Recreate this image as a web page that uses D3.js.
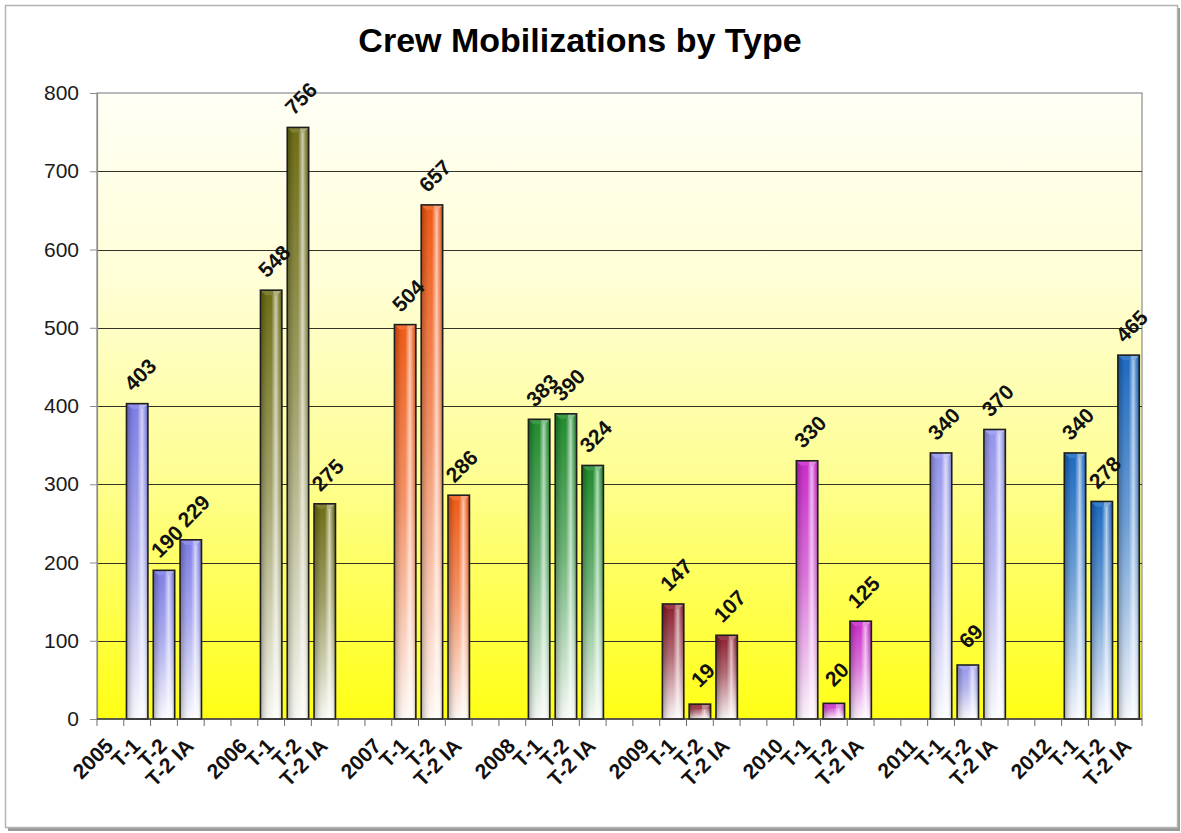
<!DOCTYPE html>
<html>
<head>
<meta charset="utf-8">
<script src="https://cdn.jsdelivr.net/npm/d3@7"></script>
<style>
  html, body { margin: 0; padding: 0; background: #ffffff; }
  svg { display: block; font-family: "Liberation Sans", Arial, sans-serif; }
</style>
</head>
<body>
<svg id="chart" width="1181" height="833"></svg>
<script>
// Crew mobilizations per year, split by crew type
const years = ["2005", "2006", "2007", "2008", "2009", "2010", "2011", "2012"];
const crewTypes = ["T-1", "T-2", "T-2 IA"];
const valuesT1   = [403, 548, 504, 383, 147, 330, 340, 340];
const valuesT2   = [190, 756, 657, 390, 19, 20, 69, 278];
const valuesT2IA = [229, 275, 286, 324, 107, 125, 370, 465];
const yearColors = ["#7c7ce6", "#6c6c12", "#f05812", "#1c8a2a", "#8a1a2a", "#c828c8", "#9494ec", "#1a68c0"];
const yTickValues = [0, 100, 200, 300, 400, 500, 600, 700, 800];

const svg = d3.select("#chart");
const plot = { left: 97, right: 1142, top: 93, bottom: 719 };

// One slot per axis label: year, its three crew types, then a spacer
const typeValues = [valuesT1, valuesT2, valuesT2IA];
const slots = [];
years.forEach((yr, i) => {
  slots.push({ label: yr, value: null, year: i });
  crewTypes.forEach((t, k) => slots.push({ label: t, value: typeValues[k][i], year: i }));
  if (i < years.length - 1) slots.push({ label: "", value: null, year: i });
});
slots.forEach((s, i) => s.key = i);

const x = d3.scaleBand()
  .domain(slots.map(s => s.key))
  .range([plot.left, plot.right])
  .paddingInner(0.2)
  .paddingOuter(0.1);
const y = d3.scaleLinear().domain([0, 800]).range([plot.bottom, plot.top]);

const defs = svg.append("defs");

// Plot background: pale cream at top to bright yellow at the base
const bg = defs.append("linearGradient").attr("id", "plotBg")
  .attr("x1", 0).attr("y1", 0).attr("x2", 0).attr("y2", 1);
[[0, "#fffff6"], [0.3, "#fffed6"], [0.6, "#fefe96"], [0.85, "#ffff44"], [1, "#ffff14"]]
  .forEach(([o, c]) => bg.append("stop").attr("offset", o).attr("stop-color", c));

// Vertical colour fade per year
yearColors.forEach((c, i) => {
  const g = defs.append("linearGradient").attr("id", "fade" + i)
    .attr("x1", 0).attr("y1", 0).attr("x2", 0).attr("y2", 1);
  g.append("stop").attr("offset", 0).attr("stop-color", c);
  g.append("stop").attr("offset", 0.45).attr("stop-color", d3.interpolateRgb(c, "#ffffff")(0.35));
  g.append("stop").attr("offset", 1).attr("stop-color", d3.interpolateRgb(c, "#ffffff")(0.95));
});

// Horizontal cylinder shading overlay
const shade = defs.append("linearGradient").attr("id", "shade")
  .attr("x1", 0).attr("y1", 0).attr("x2", 1).attr("y2", 0);
[[0, "#000000", 0.28], [0.2, "#000000", 0.1], [0.5, "#ffffff", 0.0], [0.72, "#ffffff", 0.65],
 [0.86, "#ffffff", 0.2], [1, "#000000", 0.25]]
  .forEach(([o, c, a]) => shade.append("stop").attr("offset", o).attr("stop-color", c).attr("stop-opacity", a));

// Outer frame with a soft drop edge
svg.append("rect").attr("x", 8).attr("y", 8).attr("width", 1172).attr("height", 823)
  .attr("fill", "#9a9a9a");
svg.append("rect").attr("x", 5.5).attr("y", 5.5).attr("width", 1172).attr("height", 822)
  .attr("fill", "#ffffff").attr("stroke", "#b4b4b4").attr("stroke-width", 1.5);

// Plot area
svg.append("rect")
  .attr("x", plot.left).attr("y", plot.top)
  .attr("width", plot.right - plot.left).attr("height", plot.bottom - plot.top)
  .attr("fill", "url(#plotBg)").attr("stroke", "#8c8c8c").attr("stroke-width", 1.2);

// Horizontal gridlines
svg.append("g").selectAll("line")
  .data(yTickValues.filter(v => v > 0 && v < 800))
  .join("line")
  .attr("x1", plot.left).attr("x2", plot.right)
  .attr("y1", d => Math.round(y(d)) + 0.5).attr("y2", d => Math.round(y(d)) + 0.5)
  .attr("stroke", "#333326").attr("stroke-width", 1.1);

// Y axis
const yAxis = svg.append("g")
  .attr("transform", `translate(${plot.left},0)`)
  .call(d3.axisLeft(y).tickValues(yTickValues).tickSize(7).tickPadding(11));
yAxis.select(".domain").attr("stroke", "#8c8c8c").attr("stroke-width", 1.2);
yAxis.selectAll(".tick line").attr("stroke", "#8c8c8c");
yAxis.selectAll(".tick text")
  .attr("font-size", 21).attr("fill", "#1a1a1a")
  .attr("font-family", "'Liberation Sans', Arial, sans-serif");

// Bars
const barSlots = slots.filter(s => s.value !== null);
const bars = svg.append("g").selectAll("g.bar").data(barSlots).join("g").attr("class", "bar");
bars.append("rect")
  .attr("x", d => x(d.key)).attr("y", d => y(d.value))
  .attr("width", x.bandwidth()).attr("height", d => y(0) - y(d.value))
  .attr("fill", d => `url(#fade${d.year})`);
bars.append("rect")
  .attr("x", d => x(d.key)).attr("y", d => y(d.value))
  .attr("width", x.bandwidth()).attr("height", d => y(0) - y(d.value))
  .attr("fill", "url(#shade)");
// bevelled top cap
bars.append("path")
  .attr("d", d => {
    const x0 = x(d.key), w = x.bandwidth(), t = y(d.value), b = Math.min(5, (y(0) - t) / 2);
    return `M${x0},${t}L${x0 + w},${t}L${x0 + w - b},${t + b}L${x0 + b},${t + b}Z`;
  })
  .attr("fill", d => d3.interpolateRgb(yearColors[d.year], "#ffffff")(0.15))
  .attr("opacity", 0.9);
bars.append("path")
  .attr("d", d => {
    const x0 = x(d.key), w = x.bandwidth(), t = y(d.value), b = Math.min(5, (y(0) - t) / 2);
    return `M${x0 + w * 0.6},${t}L${x0 + w},${t}L${x0 + w - b},${t + b}L${x0 + w * 0.6},${t + b}Z`;
  })
  .attr("fill", "#ffffff").attr("opacity", 0.35);
bars.append("rect")
  .attr("x", d => x(d.key)).attr("y", d => y(d.value))
  .attr("width", x.bandwidth()).attr("height", d => y(0) - y(d.value))
  .attr("fill", "none").attr("stroke", "#1e1e1e").attr("stroke-width", 1.6);

// X axis baseline and tick marks at slot boundaries
const step = x.step();
svg.append("line")
  .attr("x1", plot.left).attr("x2", plot.right)
  .attr("y1", plot.bottom).attr("y2", plot.bottom)
  .attr("stroke", "#3a3a3a").attr("stroke-width", 1.4);
svg.append("g").selectAll("line")
  .data(d3.range(slots.length + 1))
  .join("line")
  .attr("x1", i => plot.left + i * step).attr("x2", i => plot.left + i * step)
  .attr("y1", plot.bottom).attr("y2", plot.bottom + 7)
  .attr("stroke", "#6a6a6a").attr("stroke-width", 1);

// Category labels, slanted
svg.append("g").selectAll("text")
  .data(slots.filter(s => s.label !== ""))
  .join("text")
  .attr("transform", d => `translate(${x(d.key) + x.bandwidth() / 2 - 1},${plot.bottom + 23}) rotate(-45)`)
  .attr("text-anchor", "end").attr("dy", "0.35em")
  .attr("font-size", 21).attr("font-weight", "bold").attr("fill", "#111")
  .text(d => d.label);

// Value labels above bars
svg.append("g").selectAll("text")
  .data(barSlots)
  .join("text")
  .attr("transform", d => `translate(${x(d.key) + x.bandwidth() / 2 + 3},${y(d.value) - 29}) rotate(-45)`)
  .attr("text-anchor", "middle").attr("dy", "0.35em")
  .attr("font-size", 21).attr("font-weight", "bold").attr("fill", "#111")
  .text(d => d.value);

// Title
svg.append("text")
  .attr("x", 580).attr("y", 52)
  .attr("text-anchor", "middle")
  .attr("font-size", 34).attr("font-weight", "bold").attr("fill", "#000")
  .text("Crew Mobilizations by Type");
</script>
</body>
</html>
